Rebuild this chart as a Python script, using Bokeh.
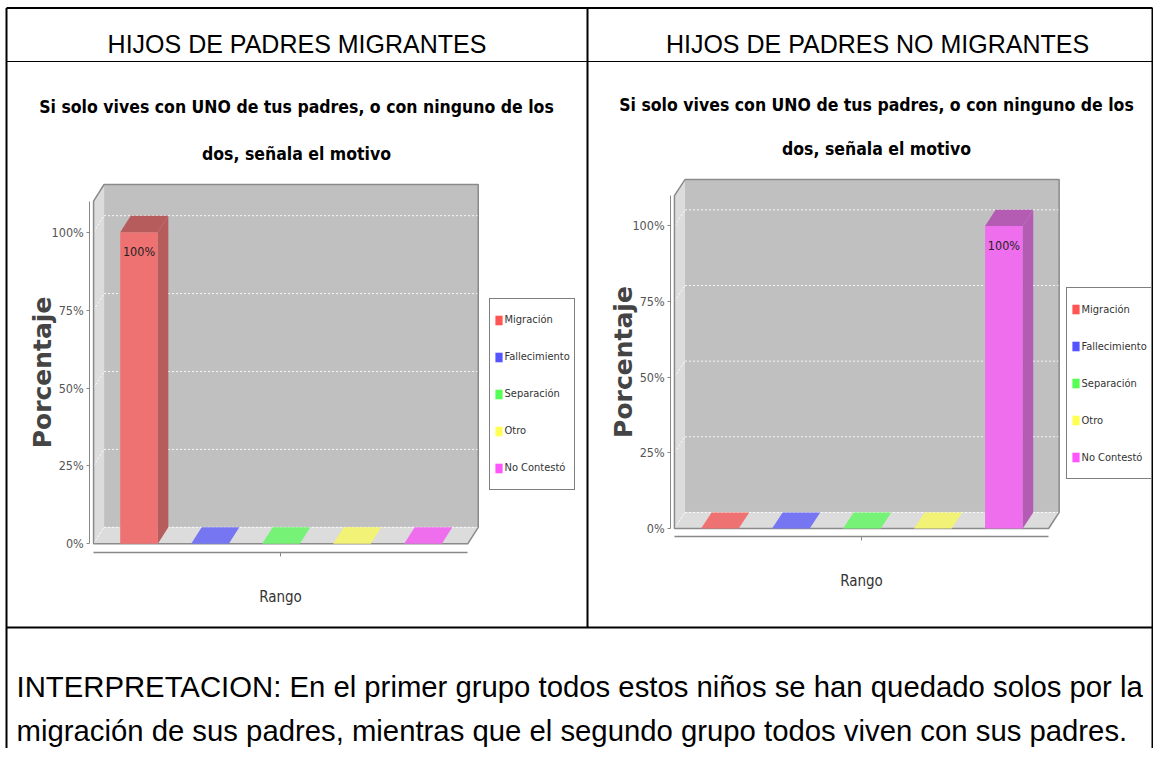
from bokeh.plotting import figure
from bokeh.models import (Range1d, LinearAxis, FixedTicker, PrintfTickFormatter,
                          Legend, LegendItem)
from bokeh.core.properties import value
from bokeh.embed import file_html
from bokeh.resources import INLINE

# ---------------- data ----------------
series = ["Migración", "Fallecimiento", "Separación", "Otro", "No Contestó"]
migrantes = [100, 0, 0, 0, 0]
no_migrantes = [0, 0, 0, 0, 100]
y_ticks = [0, 25, 50, 75, 100]
legend_colors = ["#ff5555", "#5555ff", "#55ff55", "#ffff55", "#ff55ff"]
front_colors = ["#ef7272", "#7676f2", "#76f276", "#f2f276", "#ee6eee"]
dark_colors = ["#b65c5c", "#5c5cb6", "#5cb65c", "#b6b65c", "#b45cb4"]
headers = ["HIJOS DE PADRES MIGRANTES", "HIJOS DE PADRES NO MIGRANTES"]
title_lines = ["Si solo vives con UNO de tus padres, o con ninguno de los",
               "dos, señala el motivo"]
y_label = "Porcentaje"
x_label = "Rango"
interpretation = [
    "INTERPRETACION: En el primer grupo todos estos niños se han quedado solos por la",
    "migración de sus padres, mientras que el segundo grupo todos viven con sus padres.",
]

# ---------------- layout ----------------
W, H = 1153, 748
FONT_N = "DejaVu Sans Condensed, DejaVu Sans"
FONT_DOC = "Liberation Sans"
NAN = float("nan")

p = figure(width=W, height=H, output_backend="svg", toolbar_location=None,
           x_range=Range1d(0, W), y_range=Range1d(H, 0),
           x_axis_type=None, y_axis_type=None, min_border=0, title=None)
p.outline_line_color = None
p.background_fill_color = "white"
p.border_fill_color = "white"

# table lines
p.segment(x0=[6, 6, 6, 1152, 587, 6], y0=[7.5, 61, 627, 7.5, 7.5, 7.5],
          x1=[1152, 1152, 1152, 1152, 587, 6], y1=[7.5, 61, 627, H, 627, H],
          line_color="black", line_width=[2, 1.2, 2, 2, 2, 2])

# header texts
p.text(x=[296.5, 877], y=[43, 43], text=headers, text_align="center",
       text_baseline="alphabetic", text_font=value(FONT_DOC),
       text_font_size="25px", text_color="black")

# interpretation text
p.text(x=[16, 16], y=[686, 729.5], text=interpretation, text_align="left",
       text_baseline="alphabetic", text_font=value(FONT_DOC),
       text_font_size="29.3px", text_color="black")

FL, FR = -0.64, 4.63      # floor front extent (category units)
YMAX = 110                # top of plot (%)
DX, DY = 0.148, 5.3       # 3D depth offset
BW = 0.53                 # bar width
STEP = 71.0               # px per category


def chart(key, vals, x0_px, y0_px, k, cx, base1, base2, leg_x, leg_cy):
    xn, yn = "x" + key, "y" + key
    p.extra_x_ranges[xn] = Range1d((0 - x0_px) / STEP, (W - x0_px) / STEP)
    p.extra_y_ranges[yn] = Range1d((y0_px - H) / k, (y0_px - 0) / k)
    kw = dict(x_range_name=xn, y_range_name=yn)

    # title
    p.text(x=[cx, cx], y=[base1, base2], text=title_lines, text_align="center",
           text_baseline="alphabetic", text_font=value(FONT_N),
           text_font_style="bold", text_font_size="17.5px", text_color="black")

    # walls
    p.quad(left=FL + DX, right=FR + DX, bottom=DY, top=YMAX + DY,
           fill_color="#c0c0c0", line_color=None, **kw)
    p.patch([FL, FL, FL + DX, FL + DX], [0, YMAX, YMAX + DY, DY],
            fill_color="#dcdcdc", line_color=None, **kw)
    p.patch([FL, FR, FR + DX, FL + DX], [0, 0, DY, DY],
            fill_color="#dcdcdc", line_color=None, **kw)
    # gridlines
    n = len(y_ticks)
    p.segment(x0=[FL + DX] * n, y0=[t + DY for t in y_ticks],
              x1=[FR + DX] * n, y1=[t + DY for t in y_ticks],
              line_color="white", line_dash="2 2", line_width=1, line_alpha=0.9, **kw)
    p.segment(x0=[FL] * n, y0=y_ticks, x1=[FL + DX] * n,
              y1=[t + DY for t in y_ticks],
              line_color="white", line_dash="2 2", line_width=1, line_alpha=0.9, **kw)
    # outline
    p.patch([FL, FL, FL + DX, FR + DX, FR + DX, FR],
            [0, YMAX, YMAX + DY, YMAX + DY, DY, 0],
            fill_color=None, line_color="#8a8a8a", line_width=1.5, **kw)

    # bars
    idx = list(range(len(series)))
    lefts = [i - BW / 2 for i in idx]
    rights = [i + BW / 2 for i in idx]
    p.quad(left=lefts, right=rights, bottom=0, top=vals,
           fill_color=front_colors, line_color=None, **kw)
    side_x = [[r, r + DX, r + DX, r] for r, v in zip(rights, vals) if v > 0]
    side_y = [[0, DY, v + DY, v] for v in vals if v > 0]
    side_c = [c for c, v in zip(dark_colors, vals) if v > 0]
    p.patches(side_x, side_y, fill_color=side_c, line_color=None, **kw)
    top_x = [[l, r, r + DX, l + DX] for l, r in zip(lefts, rights)]
    top_y = [[v, v, v + DY, v + DY] for v in vals]
    top_c = [d if v > 0 else f for d, f, v in zip(dark_colors, front_colors, vals)]
    p.patches(top_x, top_y, fill_color=top_c, line_color=None, **kw)

    # value labels
    lab_x = [i for i, v in zip(idx, vals) if v > 0]
    lab_y = [v for v in vals if v > 0]
    lab_t = [f"{v}%" for v in vals if v > 0]
    p.text(x=lab_x, y=lab_y, text=lab_t, text_align="center", text_baseline="top",
           y_offset=12, text_font=value(FONT_N), text_font_size="12.5px",
           text_color="#222222", **kw)

    # axes
    yaxis = LinearAxis(x_range_name=xn, y_range_name=yn, fixed_location=FL - 0.054,
                       bounds=(0, YMAX), ticker=FixedTicker(ticks=y_ticks),
                       formatter=PrintfTickFormatter(format="%d%%"),
                       axis_label=y_label)
    yaxis.axis_line_color = "#888888"
    yaxis.major_tick_line_color = "#888888"
    yaxis.major_tick_out = 3
    yaxis.major_tick_in = 0
    yaxis.minor_tick_line_color = None
    yaxis.major_label_standoff = 3
    yaxis.major_label_text_font = FONT_N
    yaxis.major_label_text_font_size = "12.5px"
    yaxis.major_label_text_color = "#555555"
    yaxis.axis_label_text_font = "DejaVu Sans"
    yaxis.axis_label_text_font_style = "bold"
    yaxis.axis_label_text_font_size = "25px"
    yaxis.axis_label_text_color = "#444444"
    yaxis.axis_label_standoff = -9
    p.add_layout(yaxis, "left")

    xaxis = LinearAxis(x_range_name=xn, y_range_name=yn, fixed_location=-2.7,
                       bounds=(FL, FR), ticker=FixedTicker(ticks=[(FL + FR) / 2]),
                       axis_label=x_label)
    xaxis.axis_line_color = "#888888"
    xaxis.axis_line_width = 1.5
    xaxis.major_tick_line_color = "#888888"
    xaxis.major_tick_out = 4
    xaxis.major_tick_in = 0
    xaxis.minor_tick_line_color = None
    xaxis.major_label_text_color = None
    xaxis.major_label_text_font_size = "14px"
    xaxis.axis_label_text_font = FONT_N
    xaxis.axis_label_text_font_style = "normal"
    xaxis.axis_label_text_font_size = "15px"
    xaxis.axis_label_text_color = "#333333"
    xaxis.axis_label_standoff = 31
    p.add_layout(xaxis, "below")

    # legend (swatch renderers hold no visible geometry)
    dummies = [p.quad(left=[NAN], right=[NAN], top=[NAN], bottom=[NAN],
                      fill_color=c, line_color=None, **kw) for c in legend_colors]
    items = [LegendItem(label=s, renderers=[r]) for s, r in zip(series, dummies)]
    pad, lh, sp = 4, 34, 3
    leg_h = 2 * pad + 5 * lh + 4 * sp
    legend = Legend(items=items, location=(leg_x, H - (leg_cy + leg_h / 2)),
                    glyph_width=9, glyph_height=12, label_standoff=2, padding=pad,
                    spacing=sp, label_height=lh, label_text_font=FONT_N,
                    label_text_font_size="11px", label_text_color="#333333",
                    border_line_color="black", border_line_width=1.5,
                    background_fill_color="white", background_fill_alpha=1.0)
    p.add_layout(legend)


chart("L", migrantes, 138.5, 543.3, 3.116, 296, 106.4, 153, 488.5, 394.6)
chart("R", no_migrantes, 719.4, 528.0, 3.026, 876, 104.4, 148, 1065.5, 384.2)

open("out.html", "w").write(file_html(p, INLINE))
